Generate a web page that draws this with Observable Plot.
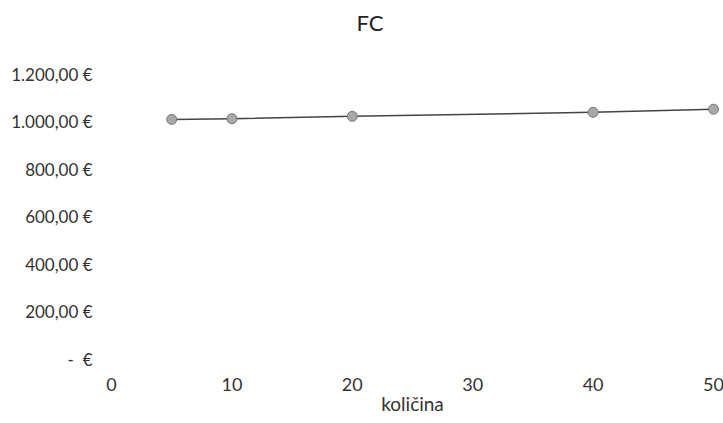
<!DOCTYPE html>
<html>
<head>
<meta charset="utf-8">
<script src="https://cdn.jsdelivr.net/npm/d3@7"></script>
<script src="https://cdn.jsdelivr.net/npm/@observablehq/plot@0.6"></script>
<style>
  body { margin: 0; background: #fff; font-family: Lato, "Open Sans", sans-serif; }
  #wrap { position: relative; width: 723px; height: 423px; }
  #title { position: absolute; left: 0; top: 9px; width: 740px; text-align: center; font-size: 22px; color: #222; }
  #chart { position: absolute; left: 0; top: 50px; }
</style>
</head>
<body>
<div id="wrap">
  <div id="title">FC</div>
  <div id="chart"></div>
</div>
<script>
const quantity = [5, 10, 20, 40, 50];
const fc = [1015, 1018, 1028, 1045, 1058];
const yTicks = [0, 200, 400, 600, 800, 1000, 1200];
const yTickLabels = ["-  €", "200,00 €", "400,00 €", "600,00 €", "800,00 €", "1.000,00 €", "1.200,00 €"];
const xTicks = [0, 10, 20, 30, 40, 50];
const xLabel = "količina";

const data = quantity.map((q, i) => ({q, v: fc[i]}));

const chart = Plot.plot({
  width: 723,
  height: 373,
  marginTop: 25,
  marginLeft: 111,
  marginRight: 10,
  marginBottom: 63,
  style: {fontFamily: "Lato, 'Open Sans', sans-serif", fontSize: "17px", color: "#333", background: "transparent"},
  x: {domain: [0, 50], ticks: xTicks, label: null},
  y: {domain: [0, 1200], ticks: yTicks, label: null},
  marks: [
    Plot.axisY({ticks: yTicks, tickSize: 0, tickPadding: 19, tickFormat: d => yTickLabels[yTicks.indexOf(d)], fontSize: 17}),
    Plot.axisX({ticks: xTicks, tickSize: 0, tickPadding: 18, fontSize: 18}),
    Plot.text([xLabel], {frameAnchor: "bottom", dy: 50, text: d => d, fontSize: 19, fill: "#333"}),
    Plot.line(data, {x: "q", y: "v", stroke: "#444", strokeWidth: 1.5}),
    Plot.dot(data, {x: "q", y: "v", r: 5, fill: "#a8a8a8", stroke: "#777", strokeWidth: 1})
  ]
});
document.getElementById("chart").appendChild(chart);
</script>
</body>
</html>
